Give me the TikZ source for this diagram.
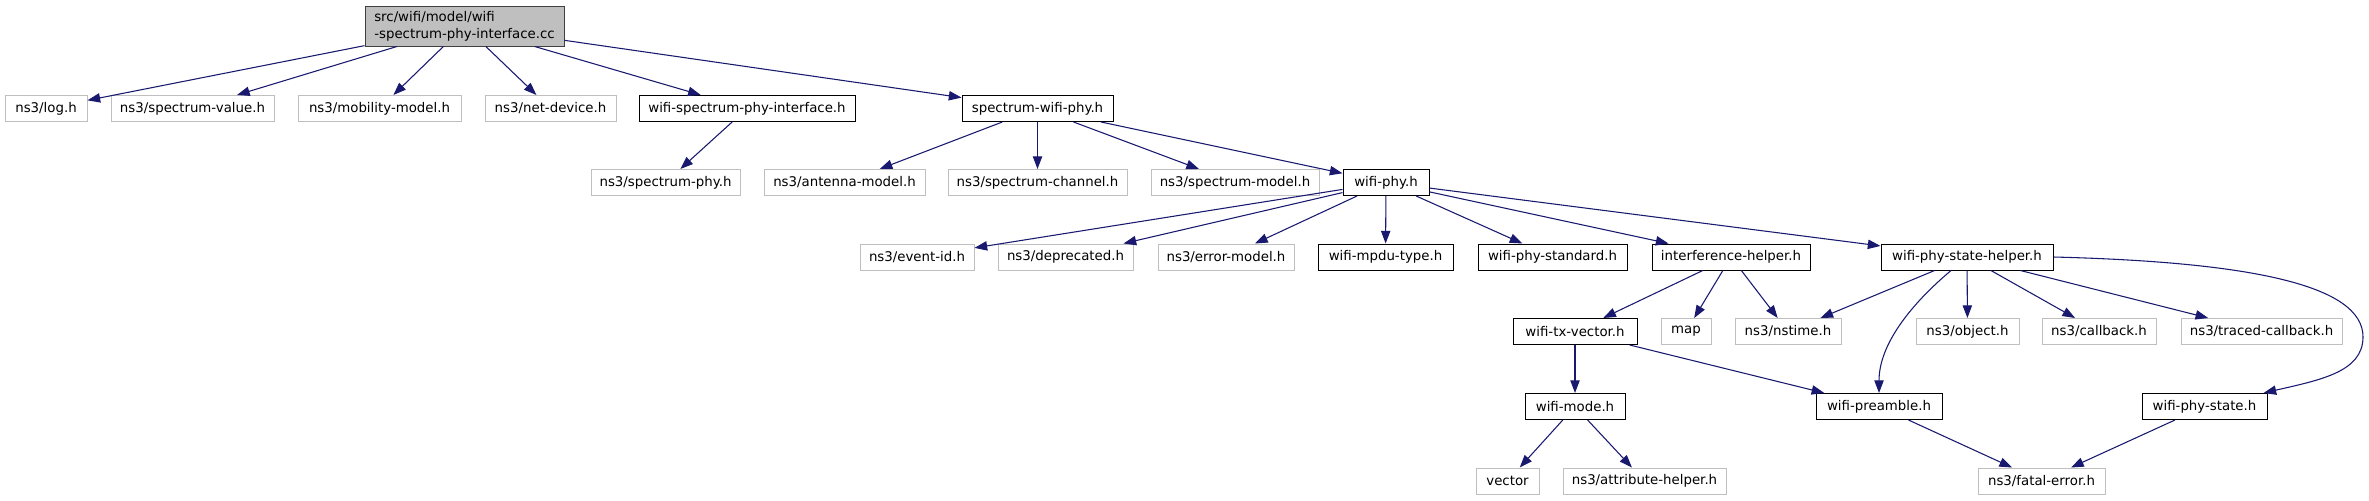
\documentclass[tikz,border=0pt]{standalone}
\usepackage{fontspec}
\setmainfont{DejaVu Sans}
\usetikzlibrary{
  arrows.meta,
  calc
}
\definecolor{edgecolor}{RGB}{25, 25, 112}
\definecolor{sysborder}{RGB}{191, 191, 191}
\definecolor{rootfill}{RGB}{191, 191, 191}
\definecolor{rootborder}{RGB}{64, 64, 64}
\tikzset{
headertext/.style={
  font=\fontsize{10pt}{12.5pt}\selectfont,
  inner sep=0pt,
  minimum height=19.5pt,
  text=black
},
sysheader/.style={
  draw=sysborder,
  line width=0.75pt,
  fill=white,
  headertext
},
localheader/.style={
  draw=black,
  line width=0.75pt,
  fill=white,
  headertext
},
rootheader/.style={
  draw=rootborder,
  fill=rootfill,
  line width=0.75pt,
  headertext,
  minimum height=30pt,
  align=left
},
incl/.style={
  -{Triangle[length=9.5pt,width=7pt]},
  line width=0.8pt,
  draw=edgecolor
}
}

\begin{document}
\begin{tikzpicture}[x=0.75pt, y=-0.75pt]
\useasboundingbox[fill=white] (0,0) rectangle (2369,500);

% source file
\node[rootheader, minimum width=149.25pt] (rootfile) at (464.5,26) {src/wifi/model/wifi\\-spectrum-phy-interface.cc};

% first level
\node[sysheader, minimum width=61.5pt] (logh) at (46,108.5) {ns3/log.h};
\node[sysheader, minimum width=122.25pt] (specvalue) at (192.5,108.5) {ns3/spectrum-value.h};
\node[sysheader, minimum width=122.25pt] (mobility) at (379.5,108.5) {ns3/mobility-model.h};
\node[sysheader, minimum width=98.25pt] (netdevice) at (550.5,108.5) {ns3/net-device.h};
\node[localheader, minimum width=162pt] (specphyif) at (747,108.5) {wifi-spectrum-phy-interface.h};
\node[localheader, minimum width=113.25pt] (specwifiphy) at (1037.5,108.5) {spectrum-wifi-phy.h};

% second level
\node[sysheader, minimum width=111.75pt] (specphy) at (665.5,182.5) {ns3/spectrum-phy.h};
\node[sysheader, minimum width=120.75pt] (antenna) at (844.5,182.5) {ns3/antenna-model.h};
\node[sysheader, minimum width=134.25pt] (specchannel) at (1037.5,182.5) {ns3/spectrum-channel.h};
\node[sysheader, minimum width=126pt] (specmodel) at (1235,182.5) {ns3/spectrum-model.h};
\node[localheader, minimum width=64.5pt] (wifiphy) at (1386,182.5) {wifi-phy.h};

% third level
\node[sysheader, minimum width=85.5pt] (eventid) at (917,257) {ns3/event-id.h};
\node[sysheader, minimum width=101.25pt] (deprecated) at (1065.5,257) {ns3/deprecated.h};
\node[sysheader, minimum width=102pt] (errormodel) at (1226,257) {ns3/error-model.h};
\node[localheader, minimum width=101.25pt] (mpdutype) at (1385.5,257) {wifi-mpdu-type.h};
\node[localheader, minimum width=111.75pt] (phystandard) at (1552.5,257) {wifi-phy-standard.h};
\node[localheader, minimum width=118.5pt] (interference) at (1731,257) {interference-helper.h};
\node[localheader, minimum width=129pt] (statehelper) at (1967,257) {wifi-phy-state-helper.h};

% fourth level
\node[localheader, minimum width=93pt] (txvector) at (1575,331.5) {wifi-tx-vector.h};
\node[sysheader, minimum width=37.5pt] (stdmap) at (1686,331.5) {map};
\node[sysheader, minimum width=79.5pt] (nstime) at (1788,331.5) {ns3/nstime.h};
\node[sysheader, minimum width=77.25pt] (object) at (1967.5,331.5) {ns3/object.h};
\node[sysheader, minimum width=85.5pt] (callback) at (2099,331.5) {ns3/callback.h};
\node[sysheader, minimum width=120.75pt] (tracedcb) at (2261.5,331.5) {ns3/traced-callback.h};

% fifth level
\node[localheader, minimum width=75pt] (wifimode) at (1575,406.5) {wifi-mode.h};
\node[localheader, minimum width=94.5pt] (preamble) at (1879,406.5) {wifi-preamble.h};
\node[localheader, minimum width=93.75pt] (phystate) at (2204.5,406.5) {wifi-phy-state.h};

% sixth level
\node[sysheader, minimum width=47.25pt] (stdvector) at (1507.5,481) {vector};
\node[sysheader, minimum width=122.25pt] (attrhelper) at (1644.5,481) {ns3/attribute-helper.h};
\node[sysheader, minimum width=95.25pt] (fatalerror) at (2041.5,481) {ns3/fatal-error.h};

% includes
\foreach \src/\dst in {rootfile/logh, rootfile/specvalue, rootfile/mobility,
  rootfile/netdevice, rootfile/specphyif, rootfile/specwifiphy,
  specphyif/specphy,
  specwifiphy/antenna, specwifiphy/specchannel, specwifiphy/specmodel, specwifiphy/wifiphy,
  wifiphy/eventid, wifiphy/deprecated, wifiphy/errormodel, wifiphy/mpdutype,
  wifiphy/phystandard, wifiphy/interference, wifiphy/statehelper,
  interference/txvector, interference/stdmap, interference/nstime,
  statehelper/nstime, statehelper/object, statehelper/callback, statehelper/tracedcb,
  txvector/wifimode, txvector/preamble,
  wifimode/stdvector, wifimode/attrhelper,
  preamble/fatalerror, phystate/fatalerror}
  \draw[incl] (\src) -- (\dst);

\draw[incl] ($(statehelper.south)+(-16,0)$) .. controls (1910,305) and (1879,345) .. (preamble.north);
\draw[incl] (statehelper.east) .. controls (2250,262) and (2363,285) .. (2363,337)
  .. controls (2363,372) and (2320,380) .. ($(phystate.north east)+(-4,0)$);
\end{tikzpicture}
\end{document}
